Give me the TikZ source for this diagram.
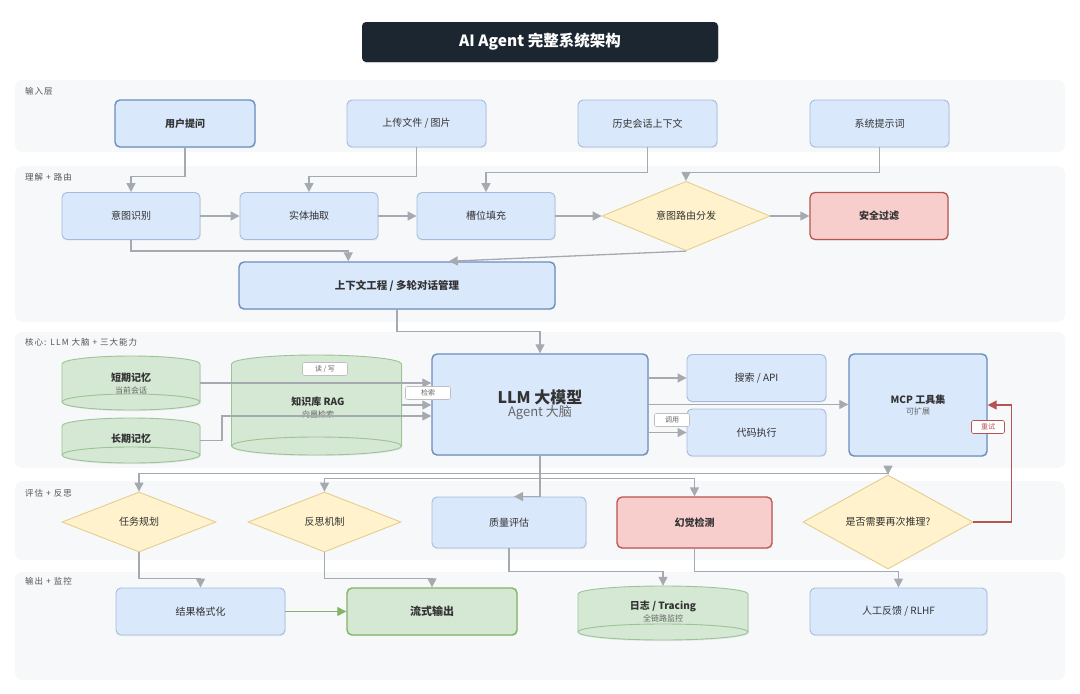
\documentclass[tikz,border=0pt]{standalone}
\usepackage{fontspec}
\setmainfont{Noto Sans CJK SC}
\newfontfamily\lblfont[LetterSpace=12]{Noto Sans CJK SC}
\usetikzlibrary{shapes.geometric,arrows.meta,shadows,calc}
\definecolor{bandc}{HTML}{F7F8F9}
\definecolor{bfill}{HTML}{DAE8FC}
\definecolor{bline}{HTML}{A3BCDD}
\definecolor{bstrong}{HTML}{6C8EBF}
\definecolor{yfill}{HTML}{FFF2CC}
\definecolor{yline}{HTML}{E3CF8E}
\definecolor{rfill}{HTML}{F8CECC}
\definecolor{rline}{HTML}{B85450}
\definecolor{gfill}{HTML}{D5E8D4}
\definecolor{gline}{HTML}{82B366}
\definecolor{cline}{HTML}{9CC396}
\definecolor{arrc}{HTML}{A5AAB0}
\definecolor{txt}{HTML}{333333}
\definecolor{lblc}{HTML}{555555}
\definecolor{subc}{HTML}{666666}
\definecolor{titlec}{HTML}{1B2631}
\newcommand{\cylshape}[6]{%
  \path[fill=gfill, drop shadow={shadow xshift=0.8pt,shadow yshift=-1.2pt,opacity=0.12}]
    (#2-#5,#3+#6) arc[start angle=180,end angle=0,x radius=#5pt,y radius=#6pt]
    -- (#2+#5,#4-#6) arc[start angle=0,end angle=-180,x radius=#5pt,y radius=#6pt] -- cycle;
  \draw[draw=cline, line width=0.9pt]
    (#2-#5,#3+#6) arc[start angle=180,end angle=0,x radius=#5pt,y radius=#6pt]
    -- (#2+#5,#4-#6) arc[start angle=0,end angle=-180,x radius=#5pt,y radius=#6pt] -- cycle;
  \draw[draw=cline, line width=0.9pt]
    (#2-#5,#4-#6) arc[start angle=180,end angle=0,x radius=#5pt,y radius=#6pt];
  \node[inner sep=0pt, minimum width={2*#5*1pt}, minimum height={(#4-#3)*1pt}] (#1) at (#2,{(#3+#4)/2}) {};
}
\begin{document}
\begin{tikzpicture}[x=1pt,y=-1pt,
  every node/.style={text=txt},
  band/.style={fill=bandc, rounded corners=8pt},
  layerlbl/.style={anchor=west, font=\lblfont\fontsize{8.5}{10}\selectfont, text=lblc, inner sep=0pt},
  box/.style={rectangle, rounded corners=5pt, fill=bfill, draw=bline, line width=0.9pt,
    minimum width=139pt, minimum height=47pt, inner sep=1pt, align=center,
    font=\fontsize{10}{12}\selectfont,
    drop shadow={shadow xshift=0.8pt,shadow yshift=-1.2pt,opacity=0.12}},
  strong/.style={box, draw=bstrong, line width=1.4pt, font=\fontsize{10}{12}\selectfont\bfseries},
  redbox/.style={box, fill=rfill, draw=rline, line width=1.3pt, font=\fontsize{10}{12}\selectfont\bfseries},
  greenbox/.style={box, fill=gfill, draw=gline, line width=1.4pt, font=\fontsize{11}{13}\selectfont\bfseries},
  dia/.style={diamond, fill=yfill, draw=yline, line width=0.9pt, inner sep=0pt, font=\fontsize{10}{12}\selectfont},
  arr/.style={draw=arrc, line width=1.3pt, -{Triangle[length=9pt,width=9pt]}},
  lbl/.style={fill=white, draw=black!25, line width=0.6pt, rounded corners=2pt, inner sep=1pt,
    font=\fontsize{7}{8}\selectfont, text=subc, minimum width=45pt, minimum height=13pt},
  cyltext/.style={font=\fontsize{10}{12}\selectfont\bfseries},
  cylsub/.style={font=\fontsize{8}{9}\selectfont, text=subc}
]
\useasboundingbox (0,0) rectangle (1080,694);
\fill[white] (0,0) rectangle (1080,694);

% bands
\fill[band] (15,80) rectangle (1065,152);
\fill[band] (15,166) rectangle (1065,322);
\fill[band] (15,332) rectangle (1065,468);
\fill[band] (15,481) rectangle (1065,560);
\fill[band] (15,572) rectangle (1065,680);

\node[layerlbl] (L1) at (25,91) {输入层};
\node[layerlbl] (L2) at (25,177) {理解 + 路由};
\node[layerlbl] (L3) at (25,342) {核心: LLM 大脑 + 三大能力};
\node[layerlbl] (L4) at (25,493) {评估 + 反思};
\node[layerlbl] (L5) at (25,581) {输出 + 监控};

% title
\node[fill=titlec, rounded corners=4pt, minimum width=356pt, minimum height=40pt, text=white,
  font=\fontsize{15.5}{18}\selectfont\bfseries,
  drop shadow={shadow xshift=0.8pt,shadow yshift=-1.2pt,opacity=0.2}] (title) at (540,42) {AI Agent 完整系统架构};

% input layer
\node[strong, minimum width=140pt] (ask) at (185,123.5) {用户提问};
\node[box] (upload) at (416.5,123.5) {上传文件 / 图片};
\node[box] (hist) at (647.5,123.5) {历史会话上下文};
\node[box] (sys) at (879.5,123.5) {系统提示词};

% understanding + routing
\node[box, minimum width=138pt] (intent) at (131,216) {意图识别};
\node[box, minimum width=138pt] (entity) at (309,216) {实体抽取};
\node[box, minimum width=138pt] (slot) at (486,216) {槽位填充};
\node[dia, minimum width=168pt, minimum height=62pt] (route) at (686,216) {意图路由分发};
\node[redbox, minimum width=138pt] (safe) at (879,216) {安全过滤};
\node[strong, minimum width=316pt, minimum height=47pt, font=\fontsize{10.5}{12}\selectfont\bfseries] (ctx) at (397,285.5) {上下文工程 / 多轮对话管理};

% core
\cylshape{stm}{131}{356}{410}{69}{8}
\node[cyltext] (stmt) at (131,378) {短期记忆};
\node[cylsub] (stms) at (131,390) {当前会话};
\cylshape{ltm}{131}{418}{463}{69}{8}
\node[cyltext] (ltmt) at (131,439) {长期记忆};
\cylshape{rag}{316.5}{355}{455}{85}{9}
\node[cyltext] (ragt) at (318,402) {知识库 RAG};
\node[cylsub] (rags) at (318,414) {向量检索};

\node[strong, minimum width=216pt, minimum height=101pt] (llm) at (540,404.5)
  {{\fontsize{16}{19}\selectfont\bfseries LLM 大模型}\\[0pt]{\fontsize{13}{15}\selectfont\mdseries\color{subc} Agent 大脑}};
\node[box] (search) at (756.5,378) {搜索 / API};
\node[box] (code) at (756.5,432.5) {代码执行};
\node[strong, minimum width=138pt, minimum height=102pt] (mcp) at (918,405)
  {MCP 工具集\\[-1pt]{\fontsize{8}{9}\selectfont\mdseries\color{subc}可扩展}};

% evaluation
\node[dia, minimum width=154pt, minimum height=60pt] (task) at (139,522) {任务规划};
\node[dia, minimum width=153pt, minimum height=60pt] (reflect) at (324.5,522) {反思机制};
\node[box, minimum width=154pt, minimum height=51pt] (qual) at (509,522.5) {质量评估};
\node[redbox, minimum width=155pt, minimum height=51pt] (halluc) at (694.5,522.5) {幻觉检测};
\node[dia, minimum width=170pt, minimum height=60pt] (again) at (888,522) {是否需要再次推理?};

% output
\node[box, minimum width=169pt] (fmt) at (200.5,611.5) {结果格式化};
\node[greenbox, minimum width=170pt] (stream) at (432,611.5) {流式输出};
\cylshape{log}{663}{586}{640}{85}{8}
\node[cyltext] (logt) at (663,606) {日志 / Tracing};
\node[cylsub] (logs) at (663,618) {全链路监控};
\node[box, minimum width=177pt] (rlhf) at (898.5,611.5) {人工反馈 / RLHF};

% edges: input -> understanding
\draw[arr] (ask.south) -- ++(0,29) -| (intent.north);
\draw[arr] (upload.south) -- ++(0,29) -| (entity.north);
\draw[arr] (hist.south) -- ++(0,25) -| (slot.north);
\draw[arr] (sys.south) -- ++(0,25) -| (route.north);
\draw[arr] (intent.east) -- (entity.west);
\draw[arr] (entity.east) -- (slot.west);
\draw[arr] (slot.east) -- (route.west);
\draw[arr] (route.east) -- (safe.west);
\draw[arr] (intent.south) -- ++(0,11) -| ([xshift=110pt]ctx.north west);
\draw[arr] (route.south) -- ([xshift=-107pt]ctx.north east);
\draw[arr] (ctx.south) -- ++(0,22) -| (llm.north);

% core edges
\draw[arr] (stm.east) -- (stm.east -| llm.west);
\draw[arr] (rag.east) -- (rag.east -| llm.west);
\coordinate (ltmbend) at (222,416);
\draw[arr] (ltm.east) -| (ltmbend) -- (ltmbend -| llm.west);
\draw[arr] (llm.east |- search.west) -- (search.west);
\draw[arr] (llm.east) -- (llm.east -| mcp.west);
\draw[arr] (llm.east |- code.west) -- (code.west);
\draw[arr, draw=rline] (again.east) -- ++(38,0) |- (mcp.east);

% llm -> evaluation
\draw[arr] (llm.south) -- ++(0,18) -| (task.north);
\draw[arr] (llm.south) -- ++(0,18) -| (again.north);
\draw[arr] (llm.south) -- ++(0,23) -| (reflect.north);
\draw[arr] (llm.south) -- ++(0,23) -| (halluc.north);
\draw[arr] (llm.south) |- ([xshift=5pt]qual.north);

% evaluation -> output
\draw[arr] (task.south) -- ++(0,26) -| (fmt.north);
\draw[arr] (reflect.south) -- ++(0,26) -| (stream.north);
\draw[arr, draw=gline] (fmt.east) -- (stream.west);
\draw[arr] (qual.south) -- ++(0,23) -| (log.north);
\draw[arr] (halluc.south) -- ++(0,23) -| (rlhf.north);

% edge labels
\node[lbl] (rw) at (325,369) {读 / 写};
\node[lbl] (ret) at (428,393) {检索};
\node[lbl, minimum width=35pt] (call) at (672,420) {调用};
\node[lbl, draw=rline, text=rline, minimum width=33pt] (retry) at (988,427) {重试};
\end{tikzpicture}
\end{document}
